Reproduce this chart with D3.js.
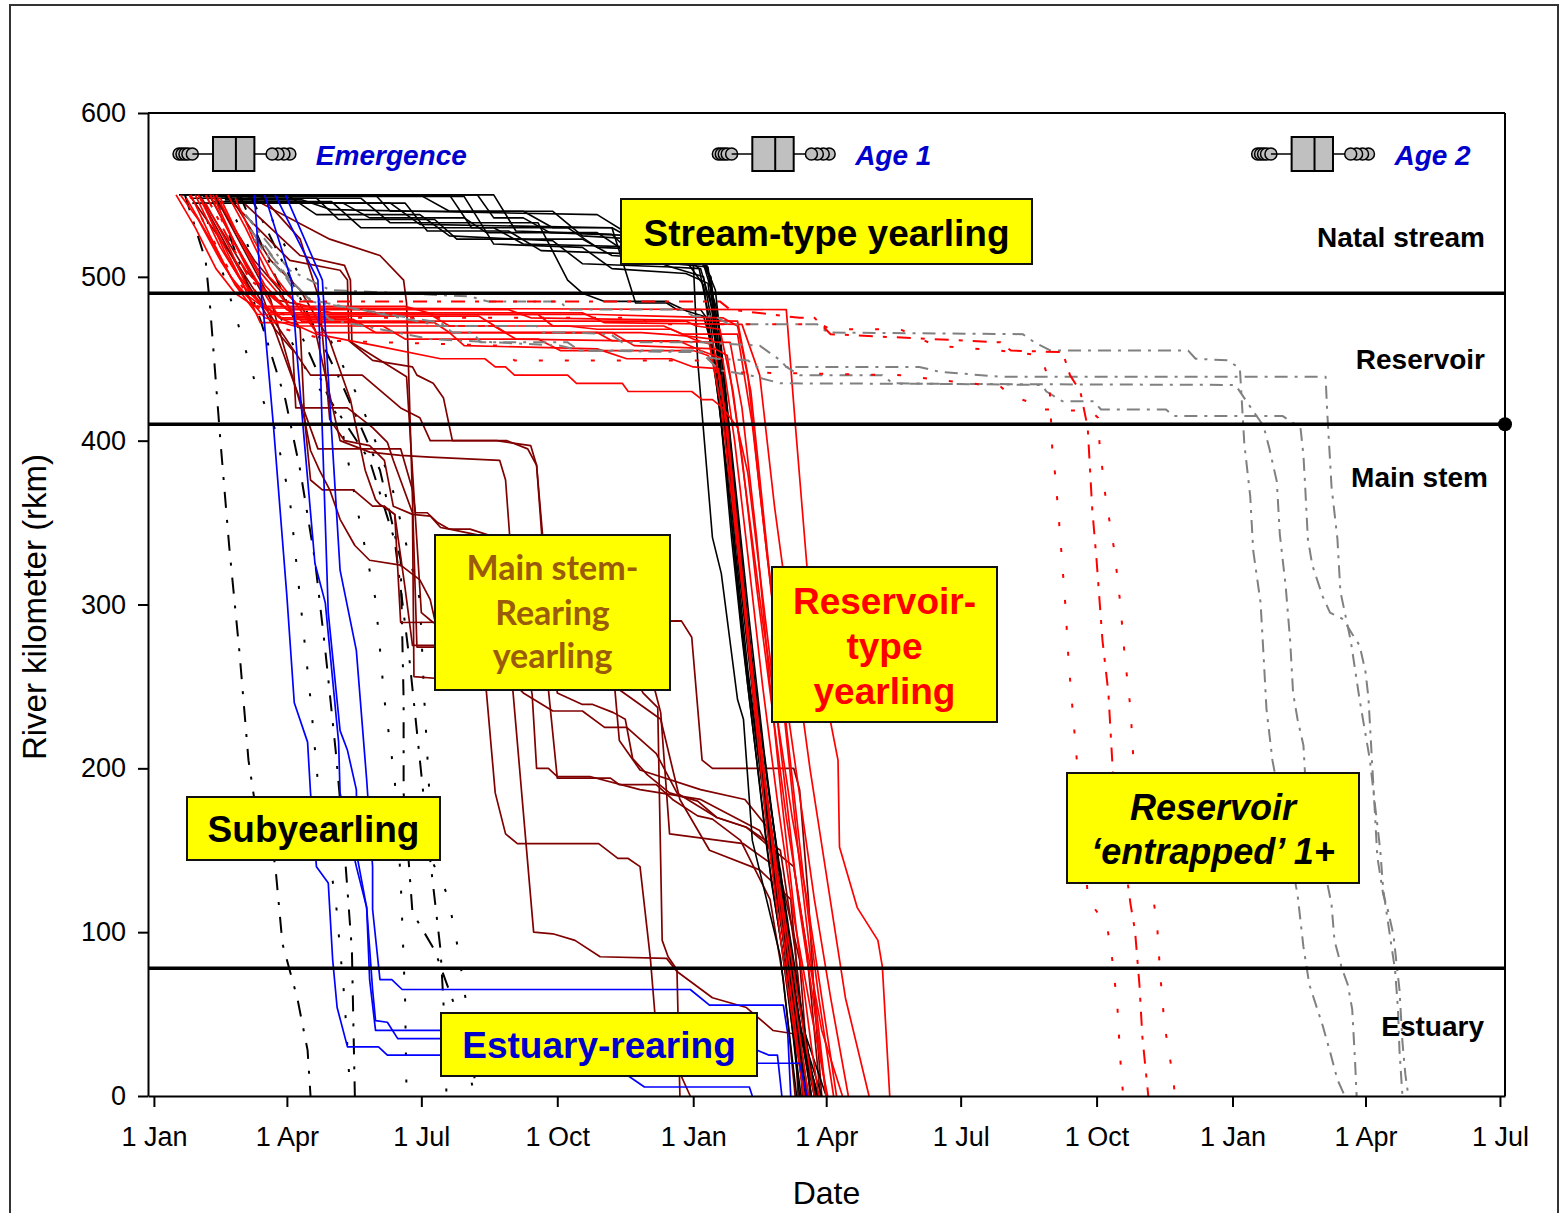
<!DOCTYPE html>
<html>
<head>
<meta charset="utf-8">
<title>River kilometer trajectories</title>
<script src="https://cdn.jsdelivr.net/npm/d3@7"></script>
<style>
html,body{margin:0;padding:0;background:#fff;}
svg{display:block;}
</style>
</head>
<body>
<svg id="chart" width="1565" height="1213"></svg>
<script>
// ---------------- DATA (day offset from 1 Jan of year 1, river km) ----------------
const yTicks = [0, 100, 200, 300, 400, 500, 600];
const xTickLabels = ["1 Jan","1 Apr","1 Jul","1 Oct","1 Jan","1 Apr","1 Jul","1 Oct","1 Jan","1 Apr","1 Jul"];
const zoneBoundaries = [490, 410, 78];
const zoneNames = ["Natal stream", "Reservoir", "Main stem", "Estuary"];

// emergence timing box plot (days): whisker low, q1, median, q3, whisker high
const emergenceBox = [26, 40, 55.5, 68, 76];
const emergenceOutliersLow = [17, 19, 21, 23, 26];
const emergenceOutliersHigh = [80, 84, 88, 92];
const ageOffsets = [0, 365, 730];
const ageLabels = ["Emergence", "Age 1", "Age 2"];

const streamTypeYearling = [
 [[17,550],[219,550],[230,536],[250,536],[268,527],[330,525],[345,512],[372,510],[380,492],[386,440],[392,380],[398,320],[405,250],[414,180],[424,110],[432,50],[440,0]],
 [[26,545],[128,545],[146,536],[210,536],[225,527],[300,527],[320,515],[368,512],[377,500],[383,450],[389,400],[396,330],[404,260],[411,200],[420,140],[430,80],[445,0]],
 [[35,550],[150,550],[160,540],[250,540],[270,530],[310,530],[330,520],[366,518],[376,500],[384,430],[390,380],[399,300],[408,230],[417,160],[426,100],[436,40],[450,0]],
 [[45,548],[110,548],[125,535],[190,535],[205,523],[290,523],[310,513],[360,510],[372,495],[380,440],[388,380],[395,310],[402,250],[410,190],[418,130],[428,75],[437,0]],
 [[30,550],[200,550],[215,530],[280,530],[300,518],[355,516],[369,505],[377,470],[384,410],[391,340],[398,280],[406,220],[415,150],[425,90],[433,35],[438,0]],
 [[55,545],[170,545],[185,528],[240,528],[262,516],[325,514],[350,506],[370,505],[378,480],[387,410],[393,350],[401,290],[409,220],[418,150],[429,80],[442,0]],
 [[40,546],[120,546],[140,530],[230,530],[250,520],[340,518],[362,512],[365,510],[368,449],[378,341],[384,319],[395,242],[399,230],[405,156],[424,85],[435,0]],
 [[20,550],[90,550],[110,538],[180,538],[200,525],[270,522],[290,508],[350,506],[372,500],[381,455],[388,400],[396,320],[406,240],[416,170],[427,100],[440,30],[447,0]],
 [[25,548],[140,548],[160,533],[260,533],[280,498],[290,490],[305,485],[347,485],[361,479],[372,476],[380,450],[387,400],[394,330],[402,260],[412,190],[422,120],[433,60],[443,0]],
 [[50,550],[180,550],[200,540],[270,540],[290,525],[345,522],[360,513],[374,508],[382,470],[388,420],[395,360],[403,290],[413,210],[423,140],[434,70],[448,0]],
 [[60,545],[160,545],[180,532],[310,530],[326,484],[347,484],[354,480],[370,480],[374,475],[383,420],[391,350],[400,270],[410,200],[420,130],[432,60],[441,0]],
 [[38,550],[230,550],[245,528],[310,526],[328,510],[375,506],[382,460],[389,395],[397,320],[406,245],[417,170],[428,100],[438,40],[452,0]],
 [[48,547],[100,547],[120,541],[300,538],[325,524],[370,514],[381,480],[388,415],[396,345],[404,270],[414,200],[426,120],[440,40],[455,0]],
 [[33,549],[210,549],[230,520],[290,518],[310,505],[360,502],[375,496],[383,445],[390,390],[398,320],[407,250],[417,180],[430,100],[444,20],[449,0]]
];

const reservoirTypeYearling = [
 [[18,550],[30,535],[45,510],[58,492],[75,481],[428,480],[434,411],[442,323],[455,242],[463,205],[464,152],[476,115],[490,95],[493,79],[498,0]],
 [[22,548],[40,520],[55,495],[70,477],[300,477],[340,476],[385,475],[395,470],[404,430],[412,360],[420,290],[428,220],[436,150],[445,80],[455,0]],
 [[28,550],[45,518],[60,496],[72,472],[190,472],[200,466],[330,466],[360,464],[378,462],[386,420],[396,330],[405,250],[414,170],[425,90],[440,0]],
 [[35,545],[50,520],[65,490],[85,475],[130,475],[140,470],[230,470],[245,462],[390,460],[398,420],[408,340],[416,260],[425,180],[435,100],[445,30],[450,0]],
 [[40,550],[55,520],[70,497],[85,475],[110,465],[150,458],[194,450],[224,450],[231,445],[238,445],[244,440],[280,440],[286,435],[317,435],[321,430],[364,430],[371,425],[378,425],[385,420],[395,408],[402,380],[410,320],[418,260],[427,190],[436,120],[446,60],[455,0]],
 [[25,550],[38,525],[52,500],[66,485],[75,475],[95,470],[155,470],[170,462],[260,462],[275,455],[365,455],[375,452],[383,440],[390,390],[398,320],[406,250],[415,180],[424,110],[433,50],[440,0]],
 [[45,548],[60,520],[75,495],[90,480],[240,480],[255,475],[395,473],[402,440],[410,370],[420,290],[430,210],[440,130],[450,60],[460,0]],
 [[50,550],[62,530],[78,500],[95,485],[110,466],[300,466],[310,461],[355,461],[370,455],[385,450],[393,400],[402,330],[412,250],[422,180],[433,110],[445,50],[456,0]],
 [[32,548],[48,515],[62,493],[78,478],[185,478],[200,470],[280,470],[300,468],[350,468],[365,462],[376,459],[384,420],[393,350],[402,280],[412,200],[423,130],[436,60],[447,0]],
 [[38,550],[52,525],[66,500],[82,486],[100,473],[360,473],[367,470],[383,468],[392,430],[402,360],[412,290],[422,230],[432,170],[442,120],[452,60],[462,0]],
 [[15,550],[28,530],[42,505],[55,490],[68,482],[170,482],[190,477],[260,477],[270,470],[345,470],[358,465],[395,465],[405,410],[415,330],[425,260],[436,190],[447,120],[458,60],[470,0]],
 [[42,550],[56,527],[70,505],[84,490],[97,476],[220,476],[238,466],[310,466],[325,458],[380,456],[388,452],[398,390],[408,310],[418,240],[428,170],[440,100],[452,40],[466,0]],
 [[55,548],[68,522],[82,500],[96,484],[120,478],[290,478],[305,472],[398,471],[410,440],[420,360],[432,280],[444,200],[456,130],[468,60],[484,0]],
 [[30,550],[44,525],[58,500],[72,484],[88,474],[135,474],[150,466],[200,466],[210,458],[300,456],[320,450],[350,450],[365,445],[382,444],[388,410],[396,330],[405,260],[414,190],[424,120],[435,50],[443,0]]
];

const mainStemRearingYearling = [
 [[24,550],[55,510],[85,468],[106,440],[141,440],[167,420],[180,414],[187,400],[222,400],[239,400],[253,395],[259,385],[263,343],[268,303],[273,246],[290,239],[297,239],[311,234],[319,230],[324,206],[334,196],[349,185],[368,180],[381,170],[401,164],[424,150],[434,89],[441,28],[445,0]],
 [[31,549],[58,504],[82,468],[94,455],[96,420],[131,420],[148,408],[158,399],[162,388],[175,356],[176,256],[190,255],[221,255],[225,247],[231,185],[238,160],[246,154],[301,154],[314,145],[321,145],[329,140],[336,84],[339,51],[346,34],[363,0]],
 [[38,549],[72,492],[111,395],[167,395],[175,370],[177,356],[185,356],[192,350],[200,346],[214,346],[238,339],[243,247],[257,100],[270,99],[285,95],[302,85],[347,84],[354,76],[378,60],[401,54],[419,40],[433,38],[437,28],[441,0]],
 [[41,550],[79,486],[102,413],[106,376],[114,370],[135,370],[148,360],[156,360],[163,355],[167,289],[357,290],[364,280],[371,205],[378,200],[433,200],[437,187],[443,120],[447,59],[452,0]],
 [[48,550],[92,510],[126,504],[131,498],[132,461],[148,449],[175,445],[178,440],[189,435],[196,426],[202,400],[232,400],[255,397],[259,385],[265,312],[267,248],[273,194],[309,194],[315,190],[340,190],[351,181],[368,171],[378,169],[397,156],[417,120],[426,71],[431,28],[434,0]],
 [[55,550],[99,513],[129,507],[133,498],[134,460],[139,457],[171,439],[181,295],[189,289],[207,284],[250,246],[270,235],[290,235],[305,225],[320,225],[340,209],[354,185],[381,170],[401,164],[433,140],[441,95],[445,59],[451,0]],
 [[62,550],[119,523],[153,513],[169,498],[171,484],[178,274],[190,274],[315,274],[331,246],[341,237],[344,95],[348,85],[354,77],[356,0]],
 [[72,550],[99,523],[112,486],[119,413],[129,400],[146,397],[156,388],[162,360],[175,355],[187,354],[194,347],[200,346],[238,339],[256,245],[259,200],[267,200],[273,195],[295,195],[329,187],[370,181],[410,162],[424,138],[431,83],[436,0]],
 [[31,550],[62,504],[82,486],[99,483],[109,468],[126,400],[146,393],[167,391],[187,390],[234,388],[238,376],[242,327],[329,303],[339,248],[343,234],[349,160],[399,154],[419,141],[427,107],[434,59],[439,0]],
 [[41,549],[68,510],[85,492],[99,468],[102,413],[106,394],[112,382],[119,370],[126,352],[136,336],[146,327],[167,324],[180,315],[187,303],[190,291],[302,278],[312,248],[315,217],[329,199],[370,187],[400,181],[417,162],[437,83],[444,0]],
 [[51,550],[79,510],[99,492],[119,461],[133,425],[143,382],[150,364],[153,361],[163,355],[170,310],[175,275],[190,275],[302,266],[315,248],[343,230],[356,181],[376,150],[410,138],[431,120],[437,59],[447,0]]
];

const estuaryRearing = [
 [[68,550],[73,486],[74,480],[81,408],[90,305],[95,240],[104,216],[106,185],[110,140],[118,130],[121,83],[124,54],[131,30],[152,30],[158,25],[302,25],[315,16],[332,5.5],[403,5.5],[405,0]],
 [[75,550],[93,498],[97,451],[101,408],[109,325],[116,301],[125,216],[126,185],[137,140],[144,115],[146,71],[150,40],[397,40],[403,30],[416,25],[422,25],[425,0]],
 [[82,550],[111,498],[114,405],[118,295],[126,223],[131,211],[137,187],[138,144],[144,115],[148,65],[150,46],[158,45],[165,35],[400,35],[407,20],[437,20],[442,0]],
 [[89,550],[114,498],[126,321],[137,272],[144,193],[148,140],[148,114],[153,71],[161,71],[168,65],[363,65],[376,55.5],[426,55.5],[429,38],[431,0]]
];

const subyearlingDotted = [
 [[31,550],[58,468],[68,437],[82,407],[92,364],[99,303],[106,242],[112,181],[123,120],[129,59],[133,0]],
 [[48,550],[99,449],[126,413],[139,352],[150,303],[156,242],[163,193],[167,132],[170,59],[171,0]],
 [[72,550],[139,425],[160,376],[180,303],[183,242],[189,142],[199,122],[206,89],[211,59],[215,22],[219,0]]
];
const subyearlingDashDot = [
 [[21,550],[35,510],[38,482],[45,400],[51,335],[58,270],[64,205],[68,181],[82,142],[87,93],[97,60],[104,28],[106,0]],
 [[41,550],[72,474],[89,425],[99,382],[109,327],[116,272],[123,211],[129,150],[134,89],[136,0]],
 [[58,550],[119,425],[146,388],[163,339],[173,266],[180,205],[187,144],[194,89],[197,40],[198,0]],
 [[65,550],[126,437],[153,382],[167,327],[169,242],[169,185],[175,112],[190,89],[204,54],[217,0]]
];

const entrappedRedDotted = [
 [[24,550],[51,504],[72,480],[99,475],[329,475],[336,471],[451,471],[458,468],[505,468],[529,458],[573,455],[600,452],[606,437],[608,395],[610,379],[613,346],[617,298],[619,266],[622,233],[625,201],[632,123],[637,114],[645,104],[648,88],[652,56],[654,23],[656,0]],
 [[38,550],[68,492],[89,468],[119,461],[234,458],[244,449],[370,449],[376,442],[505,440],[532,437],[573,433],[581,427],[591,424],[597,419],[606,419],[634,418],[639,414],[640,398],[644,366],[650,333],[654,301],[657,269],[661,236],[663,204],[676,123],[679,104],[681,75],[684,43],[690,10],[691,0]]
];
const entrappedRedDashDot = [
 [[35,550],[65,498],[85,485],[383,485],[390,480],[437,475],[447,475],[458,465],[573,460],[580,455],[615,454],[620,440],[627,430],[632,408],[635,359],[638,327],[642,278],[646,246],[649,198],[661,117],[664,101],[667,68],[669,36],[673,0]]
];
const entrappedGray = [
 [[62,538],[75,523],[92,504],[119,492],[214,488],[226,485],[275,485],[280,480],[358,480],[365,476],[380,476],[389,471],[449,471],[456,466],[588,465],[596,460],[607,455],[700,455],[705,450],[727,449],[735,444],[738,398],[742,366],[744,333],[749,301],[751,269],[753,236],[757,205],[774,123],[778,91],[782,68],[791,43],[796,27],[801,10],[806,0]],
 [[75,519],[92,498],[119,474],[187,462],[275,458],[288,455],[370,454],[383,443],[403,440],[424,435],[732,434],[744,418],[751,409],[755,395],[760,375],[762,343],[766,311],[769,278],[771,246],[774,230],[778,214],[779,198],[797,117],[799,95],[804,78],[808,68],[811,53],[813,20],[814,0]],
 [[68,523],[85,504],[106,486],[194,470],[259,470],[263,466],[280,466],[309,465],[317,460],[370,460],[410,458],[424,449],[428,445],[437,440],[493,440],[500,435],[601,434],[604,430],[615,424],[636,424],[641,419],[685,419],[690,415],[764,415],[774,409],[776,408],[778,391],[779,375],[781,340],[784,324],[791,305],[796,295],[805,291],[811,282],[816,275],[820,259],[822,243],[823,227],[825,195],[828,146],[832,123],[835,114],[839,98],[841,81],[843,65],[845,33],[847,13],[849,0]],
 [[65,529],[82,510],[99,486],[180,474],[194,472],[202,466],[216,466],[221,460],[280,460],[288,455],[370,455],[374,451],[381,450],[402,449],[408,445],[518,445],[532,442],[573,439],[793,439],[794,419],[796,388],[797,372],[801,340],[803,308],[810,278],[816,242],[823,205],[826,181],[830,150],[832,126],[837,95],[840,77],[842,53],[843,28],[845,0]]
];

// ---------------- LAYOUT ----------------
const plot = {left: 148, right: 1505, top: 113, bottom: 1096};
const FONT = "'Liberation Sans', Arial, Helvetica, sans-serif";

const BASE = Date.UTC(2001, 0, 1);
const toDate = d => new Date(BASE + d * 864e5);

const x = d3.scaleUtc()
  .domain([new Date(Date.UTC(2000, 11, 28)), new Date(Date.UTC(2003, 6, 4, 10))])
  .range([plot.left, plot.right]);
const y = d3.scaleLinear().domain([0, 600]).range([plot.bottom, plot.top]);

const svg = d3.select("#chart");

// outer frame
svg.append("rect").attr("x", 10).attr("y", 5).attr("width", 1548).attr("height", 1250)
  .attr("fill", "none").attr("stroke", "#333").attr("stroke-width", 2);

// trajectories
const seriesStyles = [
  {data: subyearlingDotted, color: "#000", width: 2, dash: "3,24"},
  {data: subyearlingDashDot, color: "#000", width: 2, dash: "16,12,3,12"},
  {data: mainStemRearingYearling, color: "#800000", width: 1.7},
  {data: streamTypeYearling, color: "#000", width: 1.6},
  {data: reservoirTypeYearling, color: "#ff0000", width: 1.7},
  {data: entrappedGray, color: "#808080", width: 2, dash: "13,7,3,7"},
  {data: entrappedRedDotted, color: "#ff0000", width: 2, dash: "4,22"},
  {data: entrappedRedDashDot, color: "#ff0000", width: 2, dash: "14,10,4,10"},
  {data: estuaryRearing, color: "#0000ff", width: 1.7}
];
const line = d3.line().x(p => x(toDate(p[0]))).y(p => y(p[1]));
const gTracks = svg.append("g").attr("fill", "none").attr("stroke-linejoin", "round");
seriesStyles.forEach(s => {
  gTracks.append("g").selectAll("path").data(s.data).join("path")
    .attr("d", line)
    .attr("fill", "none")
    .attr("stroke", s.color)
    .attr("stroke-width", s.width)
    .attr("stroke-dasharray", s.dash || null);
});

// zone boundary lines
svg.append("g").selectAll("line").data(zoneBoundaries).join("line")
  .attr("x1", plot.left).attr("x2", plot.right)
  .attr("y1", d => y(d)).attr("y2", d => y(d))
  .attr("stroke", "#000").attr("stroke-width", 3.5);
svg.append("circle").attr("cx", plot.right).attr("cy", y(zoneBoundaries[1])).attr("r", 7).attr("fill", "#000");

// plot border top/right
svg.append("line").attr("x1", plot.left).attr("x2", plot.right).attr("y1", plot.top).attr("y2", plot.top)
  .attr("stroke", "#000").attr("stroke-width", 2);
svg.append("line").attr("x1", plot.right).attr("x2", plot.right).attr("y1", plot.top).attr("y2", plot.bottom)
  .attr("stroke", "#000").attr("stroke-width", 2);

// axes
const yAxis = d3.axisLeft(y).tickValues(yTicks).tickSize(10).tickSizeOuter(0).tickPadding(12);
svg.append("g").attr("transform", `translate(${plot.left},0)`).call(yAxis)
  .call(g => {
    g.attr("font-size", 27).attr("font-family", FONT);
    g.selectAll("text").attr("fill", "#000");
    g.selectAll("line,path").attr("stroke", "#000").attr("stroke-width", 2);
  });
const xTickDates = d3.utcMonth.every(3).range(new Date(Date.UTC(2001, 0, 1)), new Date(Date.UTC(2003, 6, 2)));
const xAxis = d3.axisBottom(x).tickValues(xTickDates).tickFormat((d, i) => xTickLabels[i])
  .tickSize(11).tickSizeOuter(0).tickPadding(20);
svg.append("g").attr("transform", `translate(0,${plot.bottom})`).call(xAxis)
  .call(g => {
    g.attr("font-size", 27).attr("font-family", FONT);
    g.selectAll("text").attr("fill", "#000");
    g.selectAll("line,path").attr("stroke", "#000").attr("stroke-width", 2);
  });

// axis titles
svg.append("text").attr("transform", "translate(46,607) rotate(-90)")
  .attr("text-anchor", "middle").attr("font-family", FONT).attr("font-size", 33)
  .text("River kilometer (rkm)");
svg.append("text").attr("x", (plot.left + plot.right) / 2).attr("y", 1204)
  .attr("text-anchor", "middle").attr("font-family", FONT).attr("font-size", 32)
  .text("Date");

// zone labels
const zoneLabelPos = [{x: 1485, y: 247}, {x: 1485, y: 369}, {x: 1488, y: 487}, {x: 1484, y: 1036}];
svg.append("g").selectAll("text").data(zoneNames).join("text")
  .attr("x", (d, i) => zoneLabelPos[i].x).attr("y", (d, i) => zoneLabelPos[i].y)
  .attr("text-anchor", "end").attr("font-family", FONT).attr("font-weight", "bold")
  .attr("font-size", 28).attr("fill", "#000").text(d => d);

// box plots
const boxY = 154, boxH = 34, outR = 6;
const gBox = svg.append("g");
ageOffsets.forEach((o, k) => {
  const [wl, q1, med, q3, wh] = emergenceBox.map(v => x(toDate(v + o)));
  const g = gBox.append("g");
  emergenceOutliersLow.forEach(v => {
    g.append("circle").attr("cx", x(toDate(v + o))).attr("cy", boxY).attr("r", outR)
      .attr("fill", "#c0c0c0").attr("stroke", "#000").attr("stroke-width", 1.5);
  });
  emergenceOutliersHigh.slice().reverse().forEach(v => {
    g.append("circle").attr("cx", x(toDate(v + o))).attr("cy", boxY).attr("r", outR)
      .attr("fill", "#c0c0c0").attr("stroke", "#000").attr("stroke-width", 1.5);
  });
  g.append("line").attr("x1", wl).attr("x2", q1).attr("y1", boxY).attr("y2", boxY).attr("stroke", "#000").attr("stroke-width", 1.5);
  g.append("line").attr("x1", q3).attr("x2", wh).attr("y1", boxY).attr("y2", boxY).attr("stroke", "#000").attr("stroke-width", 1.5);
  g.append("rect").attr("x", q1).attr("y", boxY - boxH / 2).attr("width", q3 - q1).attr("height", boxH)
    .attr("fill", "#c0c0c0").attr("stroke", "#000").attr("stroke-width", 2);
  g.append("line").attr("x1", med).attr("x2", med).attr("y1", boxY - boxH / 2).attr("y2", boxY + boxH / 2)
    .attr("stroke", "#000").attr("stroke-width", 2);
  const lastOut = x(toDate(emergenceOutliersHigh[emergenceOutliersHigh.length - 1] + o));
  g.append("text").attr("x", lastOut + outR + 20).attr("y", boxY + 11)
    .attr("font-family", FONT).attr("font-weight", "bold").attr("font-style", "italic")
    .attr("font-size", 28).attr("fill", "#0000cc").text(ageLabels[k]);
});

// annotation boxes
const labelLayout = [
  {box: [621, 199, 411, 65], lines: ["Stream-type yearling"], base: [246], fill: "#000", size: 37, family: FONT},
  {box: [435, 535, 235, 155], lines: ["Main stem-", "Rearing", "yearling"], base: [580, 625, 668], fill: "#9a5b0a", size: 34, family: "Lato, 'Open Sans', sans-serif"},
  {box: [772, 567, 225, 155], lines: ["Reservoir-", "type", "yearling"], base: [614, 659, 704], fill: "#ff0000", size: 37, family: FONT},
  {box: [187, 797, 253, 63], lines: ["Subyearling"], base: [842], fill: "#000", size: 37, family: FONT},
  {box: [441, 1013, 316, 63], lines: ["Estuary-rearing"], base: [1058], fill: "#0000cc", size: 37, family: FONT},
  {box: [1067, 773, 292, 110], lines: ["Reservoir", "\u2018entrapped\u2019 1+"], base: [820, 864], fill: "#000", size: 36, family: FONT, italic: true}
];
const gLab = svg.append("g");
labelLayout.forEach(L => {
  const [bx, by, bw, bh] = L.box;
  gLab.append("rect").attr("x", bx).attr("y", by).attr("width", bw).attr("height", bh)
    .attr("fill", "#ffff00").attr("stroke", "#111").attr("stroke-width", 2);
  L.lines.forEach((t, i) => {
    gLab.append("text").attr("x", bx + bw / 2).attr("y", L.base[i])
      .attr("text-anchor", "middle").attr("font-family", L.family).attr("font-weight", "bold")
      .attr("font-style", L.italic ? "italic" : "normal")
      .attr("font-size", L.size).attr("fill", L.fill).text(t);
  });
});
</script>
</body>
</html>
